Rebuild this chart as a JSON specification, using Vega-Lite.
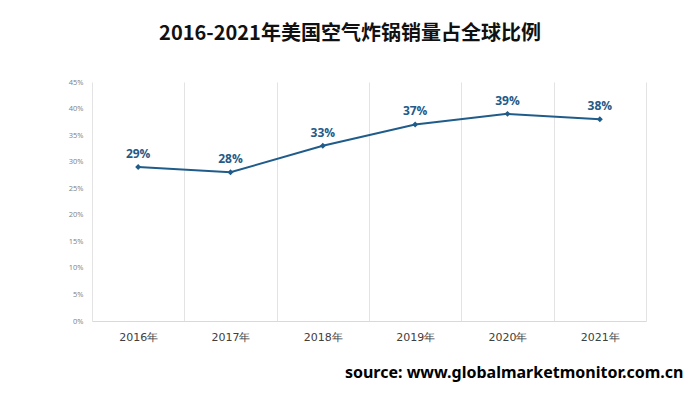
{
  "$schema": "https://vega.github.io/schema/vega-lite/v6.json",
  "width": 554,
  "height": 239,
  "autosize": "none",
  "padding": {"left": 92, "top": 82, "right": 54, "bottom": 73},
  "background": "white",
  "config": {"view": {"stroke": null}},
  "title": {
    "text": "2016-2021年美国空气炸锅销量占全球比例",
    "font": "Noto Sans CJK SC",
    "fontSize": 20,
    "fontWeight": "bold",
    "color": "#111111",
    "anchor": "middle",
    "dx": -19,
    "offset": 34
  },
  "data": {
    "values": [
      {"year": "2016年", "share": 0.29},
      {"year": "2017年", "share": 0.28},
      {"year": "2018年", "share": 0.33},
      {"year": "2019年", "share": 0.37},
      {"year": "2020年", "share": 0.39},
      {"year": "2021年", "share": 0.38}
    ]
  },
  "encoding": {
    "x": {
      "field": "year",
      "type": "nominal",
      "sort": null,
      "scale": {"paddingInner": 0, "paddingOuter": 0},
      "axis": {
        "title": "source: www.globalmarketmonitor.com.cn",
        "titleFont": "Noto Sans",
        "titleFontSize": 16,
        "titleFontWeight": "bold",
        "titleColor": "#000000",
        "titleAlign": "right",
        "titleAnchor": null,
        "titleX": 591,
        "titleY": 56,
        "titleBaseline": "alphabetic",
        "labelAngle": 0,
        "labelFont": "DejaVu Sans",
        "labelFontSize": 11,
        "labelColor": "#404040",
        "labelPadding": 10,
        "ticks": false,
        "tickBand": "extent",
        "grid": true,
        "gridColor": "#e3e3e3",
        "gridWidth": 1,
        "domainColor": "#d9d9d9",
        "domainWidth": 1
      }
    },
    "y": {
      "field": "share",
      "type": "quantitative",
      "scale": {"domain": [0, 0.45], "nice": false},
      "axis": {
        "title": null,
        "format": ".0%",
        "values": [0, 0.05, 0.1, 0.15, 0.2, 0.25, 0.3, 0.35, 0.4, 0.45],
        "grid": false,
        "domain": false,
        "ticks": false,
        "labelFont": "Open Sans",
        "labelFontSize": 7.5,
        "labelColor": "#808080",
        "labelPadding": 9
      }
    }
  },
  "layer": [
    {
      "mark": {"type": "line", "color": "#1f5c8a", "strokeWidth": 2}
    },
    {
      "mark": {"type": "point", "shape": "diamond", "filled": true, "size": 35, "color": "#1f5c8a", "opacity": 1}
    },
    {
      "mark": {"type": "text", "dy": -13, "font": "Open Sans", "fontSize": 12, "fontWeight": "bold", "color": "#245a87"},
      "encoding": {"text": {"field": "share", "type": "quantitative", "format": ".0%"}}
    }
  ]
}
